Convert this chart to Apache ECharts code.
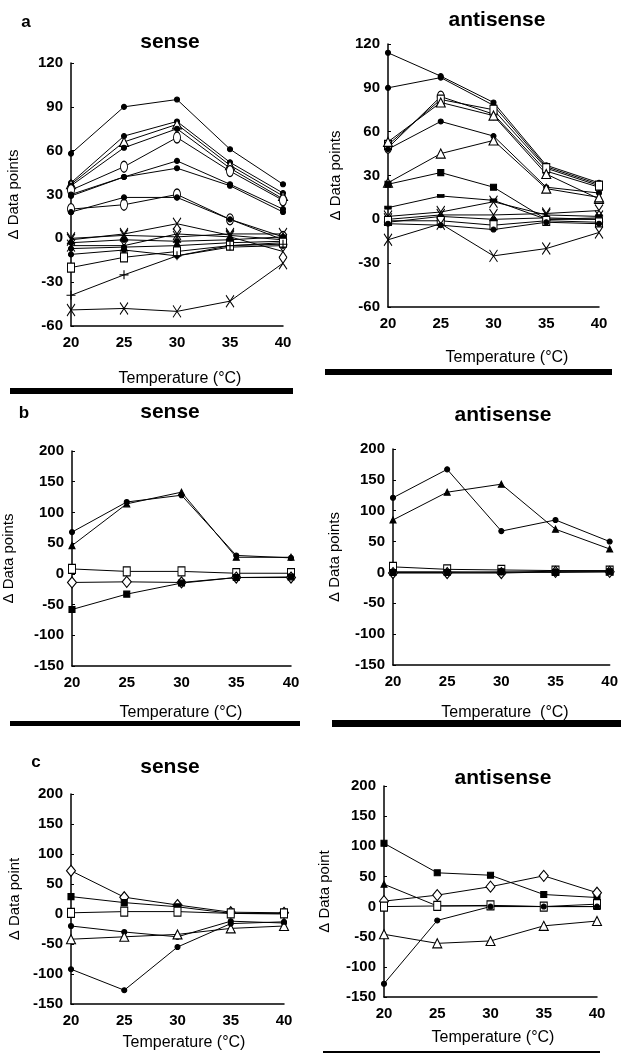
<!DOCTYPE html>
<html>
<head>
<meta charset="utf-8">
<script src="https://cdn.jsdelivr.net/npm/echarts@6/dist/echarts.min.js"></script>
<style>
  html, body { margin: 0; padding: 0; background: #fff; }
  #chart { width: 621px; height: 1055px; }
</style>
</head>
<body>
<div id="chart"></div>
<script>
// temperatures on the x axis
const temps = [20, 25, 30, 35, 40];

// panel a, sense
const aSenseLines = [
  [58, 90, 95, 61, 37],
  [38, 70, 80, 52, 31],
  [37, 66, 78, 50, 29],
  [36, 62, 75, 48, 27],
  [33, 49, 69, 46, 26],
  [30, 42, 53, 37, 20],
  [29, 42, 48, 36, 18],
  [20, 23, 30, 13, 1],
  [18, 28, 28, 13, -1],
  [-1, 3, 10, 2, -1],
  [0, 2, 1, 3, 3],
  [-3, -1, -2, -1, 1],
  [-5, -5, 3, 1, -9],
  [-7, -6, -5, -3, -2],
  [-11, -8, -12, -6, -5],
  [-20, -13, -9, -5, -3],
  [-39, -25, -12, -5, -4],
  [-49, -48, -50, -43, -17]
];
const aSenseMarks = ["dot", "dot", "tri", "dot", "oval", "dot", "dot", "oval", "dot",
  "x", "x", "dot", "x", "dot", "dot", "sq", "plus", "x"];

// panel a, antisense
const aAntiLines = [
  [114, 98, 80, 37, 25],
  [90, 97, 78, 36, 24],
  [49, 84, 72, 33, 22],
  [51, 82, 75, 35, 23],
  [53, 80, 71, 31, 14],
  [48, 67, 57, 22, 18],
  [25, 45, 54, 21, 15],
  [24, 32, 22, 0, 1],
  [8, 16, 13, 0, 0],
  [2, 5, 12, 3, 2],
  [0, 3, 3, 4, 6],
  [-2, 2, 0, 1, 0],
  [-1, -1, -4, -1, -2],
  [-3, -4, -7, -2, -3],
  [-14, -3, -25, -20, -9]
];
const aAntiMarks = ["dot", "dot", "oval", "sq", "tri", "dot", "tri", "sqF", "dash",
  "x", "x", "dot", "sq", "dot", "x"];

// panel b, sense
const bSenseLines = [
  [68, 117, 128, 30, 26],
  [46, 114, 133, 27, 27],
  [8, 4, 4, 1, 1],
  [-14, -13, -14, -6, -6],
  [-58, -33, -15, -6, -5]
];
const bSenseMarks = ["dot", "triF", "sq", "dia", "sqF"];

// panel b, antisense
const bAntiLines = [
  [121, 167, 67, 85, 50],
  [85, 130, 143, 70, 38],
  [9, 5, 4, 3, 3],
  [-1, -1, -1, 1, 1],
  [1, 1, 0, 2, 2],
  [0, 0, 1, 0, 1]
];
const bAntiMarks = ["dot", "triF", "sq", "dia", "dot", "sqF"];

// panel c, sense
const cSenseLines = [
  [72, 28, 15, 3, 2],
  [29, 19, 12, 1, 0],
  [2, 4, 4, 1, 1],
  [-20, -30, -38, -12, -15],
  [-42, -38, -34, -24, -20],
  [-92, -127, -55, -16, -13]
];
const cSenseMarks = ["dia", "sqF", "sq", "dot", "tri", "dot"];

// panel c, antisense
const cAntiLines = [
  [105, 56, 52, 20, 15],
  [9, 19, 33, 51, 23],
  [37, 1, 1, 0, 0],
  [0, 1, 2, 0, 4],
  [-128, -23, 0, 0, 0],
  [-46, -61, -57, -32, -24]
];
const cAntiMarks = ["sqF", "dia", "triF", "sq", "dot", "tri"];

const FONT = "'Liberation Sans', Arial, sans-serif";

// marker look
const markStyle = {
  dot: { symbol: "circle", size: 5, fill: "#000" },
  oval: { symbol: "circle", size: [7, 11], fill: "#fff" },
  tri: { symbol: "triangle", size: 9, fill: "#fff" },
  triF: { symbol: "triangle", size: 6, fill: "#000" },
  sq: { symbol: "rect", size: [7, 9], fill: "#fff" },
  sqF: { symbol: "rect", size: 6, fill: "#000" },
  dia: { symbol: "diamond", size: [9, 11], fill: "#fff" },
  x: { symbol: "path://M0,0L10,16M10,0L0,16", size: [8, 12], fill: "transparent" },
  plus: { symbol: "path://M5,0L5,10M0,5L10,5", size: 9, fill: "transparent" },
  dash: { symbol: "rect", size: [6, 3], fill: "#000" }
};

const panels = [
  { lines: aSenseLines, marks: aSenseMarks, min: -60, max: 120, step: 30, name: "Δ Data points", gap: 50,
    grid: { left: 71, top: 63, width: 212, height: 263 } },
  { lines: aAntiLines, marks: aAntiMarks, min: -60, max: 120, step: 30, name: "Δ Data points", gap: 45,
    grid: { left: 388, top: 44, width: 211, height: 263 } },
  { lines: bSenseLines, marks: bSenseMarks, min: -150, max: 200, step: 50, name: "Δ Data points", gap: 56,
    grid: { left: 72, top: 451, width: 219, height: 215 } },
  { lines: bAntiLines, marks: bAntiMarks, min: -150, max: 200, step: 50, name: "Δ Data points", gap: 51,
    grid: { left: 393, top: 449, width: 218, height: 216 } },
  { lines: cSenseLines, marks: cSenseMarks, min: -150, max: 200, step: 50, name: "Δ Data point", gap: 49,
    grid: { left: 71, top: 794, width: 213, height: 210 } },
  { lines: cAntiLines, marks: cAntiMarks, min: -150, max: 200, step: 50, name: "Δ Data point", gap: 52,
    grid: { left: 384, top: 786, width: 213, height: 211 } }
];

let grid = [], xAxis = [], yAxis = [], series = [];
panels.forEach((p, k) => {
  grid.push(p.grid);
  xAxis.push({
    type: "value", gridIndex: k, min: 20, max: 40, interval: 5,
    axisLine: { onZero: false, lineStyle: { color: "#000", width: 1.5 } },
    axisTick: { show: false },
    splitLine: { show: false },
    axisLabel: { color: "#000", fontSize: 15, fontWeight: "bold", fontFamily: FONT, margin: 9 }
  });
  yAxis.push({
    type: "value", gridIndex: k, min: p.min, max: p.max, interval: p.step,
    name: p.name, nameLocation: "middle", nameGap: p.gap, nameRotate: 90,
    nameTextStyle: { color: "#000", fontSize: 15, fontFamily: FONT },
    axisLine: { show: true, lineStyle: { color: "#000", width: 1.5 } },
    axisTick: { show: true, inside: true, length: 3, lineStyle: { color: "#000" } },
    splitLine: { show: false },
    axisLabel: { color: "#000", fontSize: 15, fontWeight: "bold", fontFamily: FONT, margin: 8 }
  });
  p.lines.forEach((vals, i) => {
    let m = markStyle[p.marks[i]];
    series.push({
      type: "line",
      xAxisIndex: k,
      yAxisIndex: k,
      data: temps.map((t, j) => [t, vals[j]]),
      symbol: m.symbol,
      symbolSize: m.size,
      showAllSymbol: true,
      lineStyle: { color: "#000", width: 1 },
      itemStyle: { color: m.fill, borderColor: "#000", borderWidth: 1.1 },
      emphasis: { disabled: true },
      z: 3
    });
  });
});

function txt(x, y, s, size, weight) {
  return {
    type: "text", x: x, y: y,
    style: { text: s, fill: "#000", font: `${weight} ${size}px ${FONT}`, align: "center", verticalAlign: "middle" }
  };
}
function bar(x, y, w, h) {
  return { type: "rect", shape: { x: x, y: y, width: w, height: h }, style: { fill: "#000" } };
}

const graphic = [
  txt(26, 22, "a", 17, "bold"),
  txt(24, 413, "b", 17, "bold"),
  txt(36, 762, "c", 17, "bold"),
  txt(170, 42, "sense", 21, "bold"),
  txt(497, 20, "antisense", 21, "bold"),
  txt(170, 412, "sense", 21, "bold"),
  txt(503, 415, "antisense", 21, "bold"),
  txt(170, 767, "sense", 21, "bold"),
  txt(503, 778, "antisense", 21, "bold"),
  txt(180, 379, "Temperature (°C)", 16, "normal"),
  txt(507, 358, "Temperature (°C)", 16, "normal"),
  txt(181, 713, "Temperature (°C)", 16, "normal"),
  txt(505, 713, "Temperature  (°C)", 16, "normal"),
  txt(184, 1043, "Temperature (°C)", 16, "normal"),
  txt(493, 1038, "Temperature (°C)", 16, "normal"),
  bar(10, 388, 283, 6),
  bar(325, 369, 287, 6),
  bar(10, 721, 290, 5),
  bar(332, 720, 289, 7),
  bar(323, 1051, 277, 2)
];

let myChart = echarts.init(document.getElementById("chart"));
myChart.setOption({
  animation: false,
  backgroundColor: "#fff",
  grid: grid,
  xAxis: xAxis,
  yAxis: yAxis,
  series: series,
  graphic: graphic
});
</script>
</body>
</html>
